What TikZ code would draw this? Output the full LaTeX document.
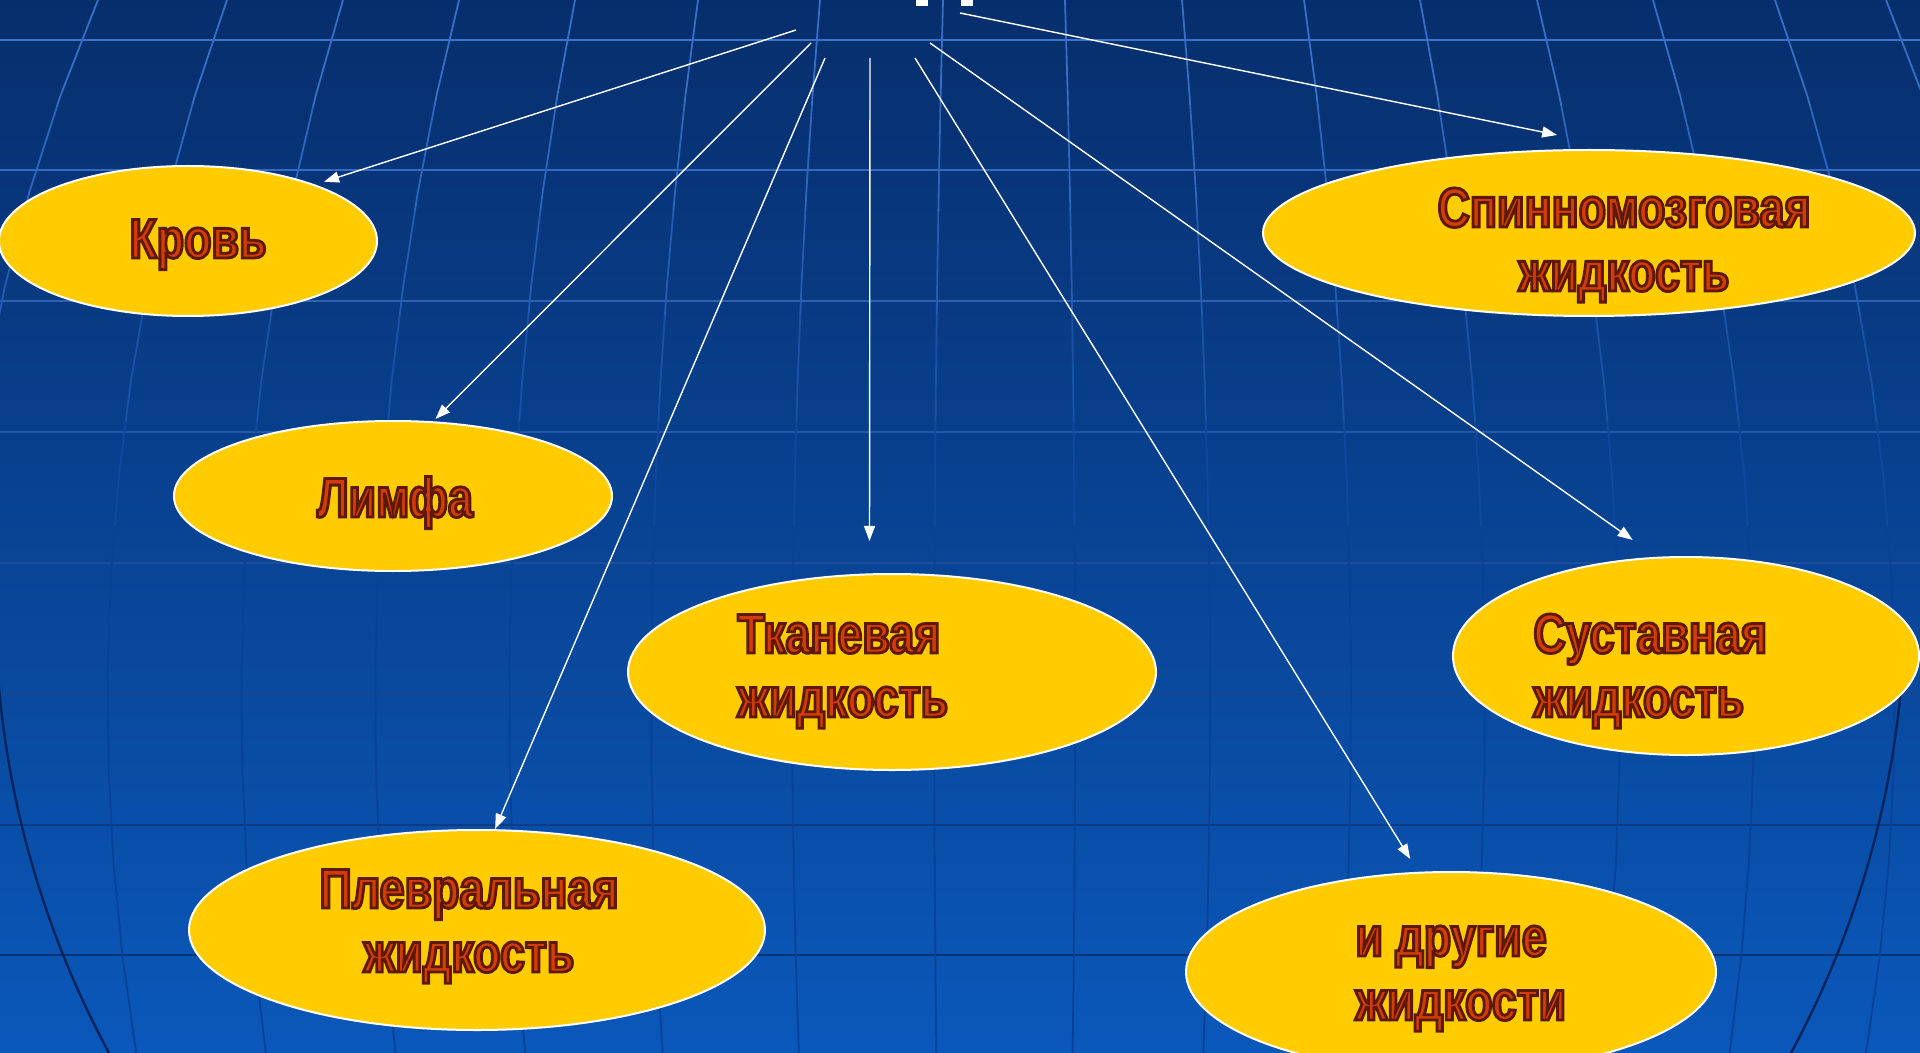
\documentclass[tikz,border=0pt]{standalone}
\usepackage{fontspec}
\usepackage{tikz}
\newfontfamily\lblfont[FakeStretch=0.8]{Liberation Sans}
\usetikzlibrary{shapes.geometric}
\usetikzlibrary{arrows.meta}
\definecolor{bgtop}{RGB}{7,46,108}
\definecolor{bgmid}{RGB}{8,66,152}
\definecolor{bgbot}{RGB}{10,88,186}
\definecolor{gridhi}{RGB}{60,116,204}
\definecolor{gridlo}{RGB}{6,50,118}
\definecolor{globeedge}{RGB}{6,36,92}
\definecolor{blobfill}{RGB}{255,204,0}
\definecolor{lbltext}{RGB}{210,60,8}
\tikzset{blob/.style = {ellipse, fill=blobfill, draw=white, line width=1pt,
                        inner sep=0, outer sep=0}}
\tikzset{lbl/.style = {inner sep=0, text=lbltext,
                       font=\lblfont\bfseries\fontsize{28}{32}\selectfont}}
\tikzset{arr/.style = {white, line width=0.7pt, -{Triangle[length=7.5pt, width=5.5pt]}}}
\tikzset{gridline/.style = {line width=1.3pt}}
\tikzset{meridian/.style = {line width=0.9pt}}
% dark brown outline round the letters
\newcommand{\shd}[1]{\special{pdf:literal direct 2 Tr 1.4 w 0.36 0.1 0.02 RG}#1\special{pdf:literal direct 0 Tr}}

\begin{document}
\begin{tikzpicture}[x=0.5pt, y=-0.5pt]
    \useasboundingbox (0,0) rectangle (1920,1053);
    \clip (0,0) rectangle (1920,1053);
    \shade[top color=bgtop, middle color=bgmid, bottom color=bgbot] (0,0) rectangle (1920,1053);

    % background grid
    \foreach \y in {40,170,301,432,563,694,825,955} {
      \pgfmathsetmacro\p{100-(\y-40)/9.15}
      \draw[gridline, gridhi!\p!gridlo] (0,\y) -- (1920,\y);
    }
    \foreach \k in {0,...,9} {
      \pgfmathsetmacro\p{max(0,100-(\k*105.3+52)/5.5)}
      \begin{scope}
        \clip (0,\k*105.3) rectangle (1920,\k*105.3+105.3);
        \foreach \xo in {98,227,343,459,575,698,820,943,1065,1182,1304,1420,1537,1653,1775,1886}
          \draw[meridian, gridhi!\p!bgmid] plot[variable=\t, domain=0:1053, samples=12]
            ({1000+(\xo-1000)*sqrt(1-((\t-700)/1400)^2)/0.866}, \t);
      \end{scope}
    }
    \begin{scope}
      \clip (0,650) rectangle (1920,1053);
      \draw[line width=1.2pt, globeedge] (950,600) circle[radius=955];
    \end{scope}

    % cut-off title
    \fill[white] (916,0) rectangle (928,6);
    \fill[white] (961,0) rectangle (973,6);

    \coordinate (src-krov) at (796,30);
    \coordinate (src-limfa) at (811,43);
    \coordinate (src-plevr) at (825,58);
    \coordinate (src-tkan) at (870,58);
    \coordinate (src-drug) at (915,58);
    \coordinate (src-sust) at (930,43);
    \coordinate (src-spinn) at (960,13);

    \node[blob, minimum width=189pt, minimum height=75pt] (krov) at (188,241) {};
    \node[blob, minimum width=326pt, minimum height=83pt] (spinn) at (1589,233) {};
    \node[blob, minimum width=219pt, minimum height=75pt] (limfa) at (393,496) {};
    \node[blob, minimum width=264pt, minimum height=98pt] (tkan) at (892,672) {};
    \node[blob, minimum width=233pt, minimum height=99pt] (sust) at (1686,656) {};
    \node[blob, minimum width=288pt, minimum height=100pt] (plevr) at (477,930) {};
    \node[blob, minimum width=265pt, minimum height=100pt] (drug) at (1451,972) {};

    \draw[arr, shorten >=5.4pt] (src-krov) -- (krov.24);
    \draw[arr, shorten >=2.3pt] (src-limfa) -- (limfa.62);
    \draw[arr, shorten >=0.7pt] (src-plevr) -- (plevr.80);
    \draw[arr, shorten >=16.7pt] (src-tkan) -- (tkan.103);
    \draw[arr, shorten >=8.1pt] (src-drug) -- (drug.108);
    \draw[arr, shorten >=15.4pt] (src-sust) -- (sust.106);
    \draw[arr, shorten >=39.5pt] (src-spinn) -- (spinn.61);

    \node[lbl, anchor=base] (krov-t) at (198,258) {\shd{Кровь}};
    \node[lbl, anchor=base] (limfa-t) at (395,517) {\shd{Лимфа}};
    \node[lbl, anchor=base, align=center] (spinn-t) at (1624,291)
      {\shd{Спинномозговая}\\\shd{жидкость}};
    \node[lbl, anchor=base west, align=left] (tkan-t) at (737,717)
      {\shd{Тканевая}\\\shd{жидкость}};
    \node[lbl, anchor=base west, align=left] (sust-t) at (1533,717)
      {\shd{Суставная}\\\shd{жидкость}};
    \node[lbl, anchor=base, align=center] (plevr-t) at (469,972)
      {\shd{Плевральная}\\\shd{жидкость}};
    \node[lbl, anchor=base west, align=left] (drug-t) at (1355,1020)
      {\shd{и другие}\\\shd{жидкости}};
  \end{tikzpicture}
\end{document}
